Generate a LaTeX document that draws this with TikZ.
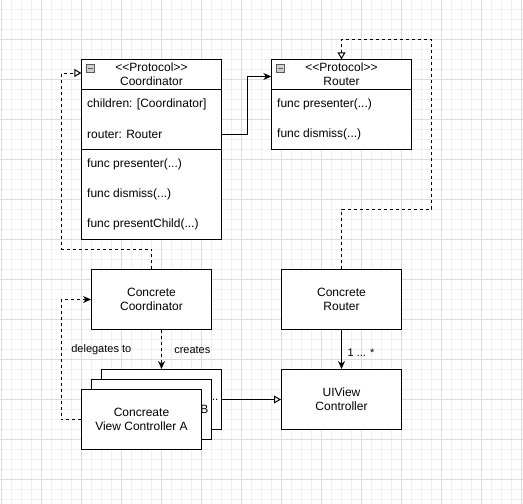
\documentclass[tikz,border=0pt]{standalone}
\usepackage{fontspec}
\setmainfont{Liberation Sans}
\usetikzlibrary{arrows.meta}
\definecolor{gridminor}{HTML}{F0F0F0}
\definecolor{gridmajor}{HTML}{DCDCDC}
\definecolor{iconfill}{HTML}{D0D0D0}
\definecolor{iconline}{HTML}{5A5A5A}
% stereotype text, kept free of the << >> guillemet mapping
\newcommand{\stereo}[1]{<\kern0pt<#1>\kern0pt>}
\begin{document}
\begin{tikzpicture}[x=1pt,y=-1pt,
  every node/.style={font=\fontsize{12}{14}\selectfont},
  box/.style={draw, line width=1pt, fill=white, minimum width=120pt, minimum height=60pt, inner sep=0pt, align=center},
  stackbox/.style={box, text width=114pt, inner xsep=3pt, align=flush right},
  classbox/.style={draw, line width=1pt, fill=white, minimum width=140pt, inner sep=0pt},
  header/.style={minimum width=140pt, minimum height=30pt, inner sep=0pt, align=center, font=\fontsize{12}{13.7}\selectfont},
  member/.style={anchor=west, inner sep=0pt},
  conn/.style={line width=1pt},
  dashconn/.style={conn, dash pattern=on 3pt off 3pt},
  arr/.style={-{Stealth[length=8pt,width=7pt]}},
  realize/.style={-{Triangle[open,length=7pt,width=8pt,fill=white]}},
  edgelabel/.style={font=\fontsize{11}{13}\selectfont, inner sep=1pt},
  icon/.style={draw=iconline, fill=iconfill, line width=0.8pt}
]
% canvas and grid
\fill[white] (0,0) rectangle (523,504);
\useasboundingbox (0,0) rectangle (523,504);
\foreach \i in {0,...,52} {\draw[gridminor, line width=0.8pt] (1.5+10*\i,0) -- (1.5+10*\i,504);}
\foreach \i in {1,...,50} {\draw[gridminor, line width=0.8pt] (0,-0.5+10*\i) -- (523,-0.5+10*\i);}
\foreach \i in {0,...,13} {\draw[gridmajor, line width=0.8pt] (1.5+40*\i,0) -- (1.5+40*\i,504);}
\foreach \i in {1,...,12} {\draw[gridmajor, line width=0.8pt] (0,-0.5+40*\i) -- (523,-0.5+40*\i);}

% protocol Coordinator
\node[classbox, minimum height=180pt] (coord) at (151.5,149.5) {};
\node[header] (chead) at (151.5,74.5) {\stereo{Protocol}\\Coordinator};
\draw[conn] (coord.west |- chead.south) -- (coord.east |- chead.south);
\draw[conn] (coord.west) -- (coord.east);
\draw[icon] (86.5,64.5) rectangle (94.5,72.5);
\draw[iconline, line width=1.3pt] (88,68.5) -- (93,68.5);
\node[member] (cchildren) at (87,104.5) {children: [Coordinator]};
\node[member] (crouter) at (87,134.5) {router: Router};
\node[member] (cpresent) at (87,164.5) {func presenter(...)};
\node[member] (cdismiss) at (87,194.5) {func dismiss(...)};
\node[member] (cchild) at (87,224.5) {func presentChild(...)};

% protocol Router
\node[classbox, minimum height=90pt] (router) at (341.5,104.5) {};
\node[header] (rhead) at (341.5,74.5) {\stereo{Protocol}\\Router};
\draw[conn] (router.west |- rhead.south) -- (router.east |- rhead.south);
\draw[icon] (276.5,64.5) rectangle (284.5,72.5);
\draw[iconline, line width=1.3pt] (278,68.5) -- (283,68.5);
\node[member] (rpresent) at (277,104.5) {func presenter(...)};
\node[member] (rdismiss) at (277,134.5) {func dismiss(...)};

% concrete types
\node[box] (cc) at (151.5,299.5) {Concrete\\Coordinator};
\node[box] (cr) at (341.5,299.5) {Concrete\\Router};
\node[box] (uiv) at (341.5,399.5) {UIView\\Controller};

% stack of view controllers
\node[stackbox] (vcn) at (161.5,399.5) {...};
\node[stackbox] (vcb) at (151.5,409.5) {B};
\node[box] (vca) at (141.5,419.5) {Concreate\\View Controller A};

% connectors
\draw[conn, arr] (crouter -| coord.east) -- ++(25,0) |- ([yshift=-2pt]rhead.west);
\draw[dashconn, realize] (cc.north) -- ++(0,-20) -- ++(-90,0) |- ([yshift=1.5pt]chead.west);
\draw[dashconn, realize] (cr.north) -- ++(0,-60) -- ++(90,0) |- ([yshift=20pt]rhead.north) -- (rhead.north);
\draw[dashconn, arr] (vcn.north |- cc.south) -- (vcn.north);
\draw[dashconn, arr] (vca.west) -- ++(-20,0) |- (cc.west);
\draw[conn, realize] (vcn.east) -- (uiv.west);
\draw[conn, arr] (cr.south) -- (uiv.north);

% edge labels
\node[edgelabel] (lcreates) at (192.3,350) {creates};
\node[edgelabel] (ldelegates) at (101.3,350) {delegates to};
\node[edgelabel] (lmult) at (361,352.7) {1 ... *};
\end{tikzpicture}
\end{document}
